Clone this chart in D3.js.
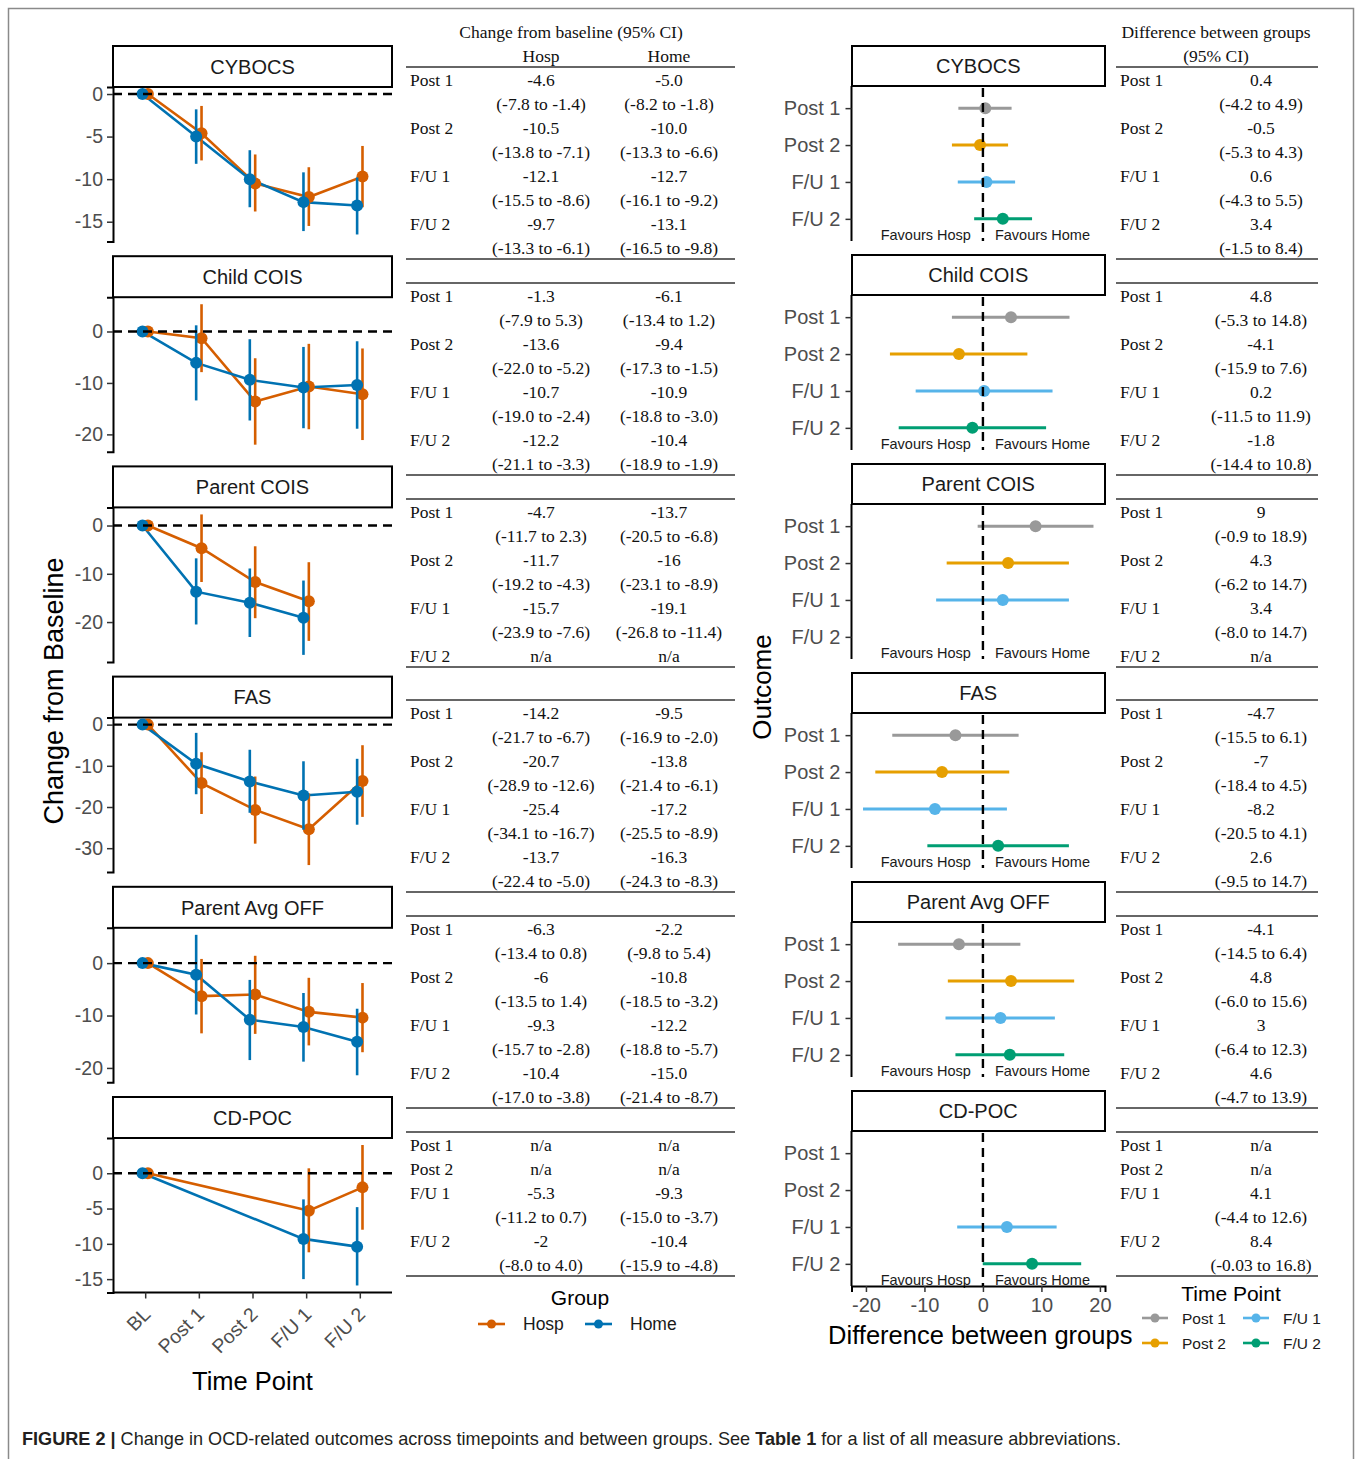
<!DOCTYPE html>
<html><head><meta charset="utf-8">
<script src="https://cdn.jsdelivr.net/npm/d3@7"></script>
<style>body{margin:0;background:#fff} svg{display:block}</style>
</head><body><svg id="c" width="1360" height="1459"></svg>
<script>
// ---------- DATA ----------
const measures = ["CYBOCS","Child COIS","Parent COIS","FAS","Parent Avg OFF","CD-POC"];
const timepoints = ["BL","Post 1","Post 2","F/U 1","F/U 2"];
const followups = ["Post 1","Post 2","F/U 1","F/U 2"];
const groups = ["Hosp","Home"];

// change from baseline, strings as printed in the table ("n/a" = not available)
const hospEst = [
 ["-4.6","-10.5","-12.1","-9.7"],
 ["-1.3","-13.6","-10.7","-12.2"],
 ["-4.7","-11.7","-15.7","n/a"],
 ["-14.2","-20.7","-25.4","-13.7"],
 ["-6.3","-6","-9.3","-10.4"],
 ["n/a","n/a","-5.3","-2"]];
const hospLo = [
 ["-7.8","-13.8","-15.5","-13.3"],
 ["-7.9","-22.0","-19.0","-21.1"],
 ["-11.7","-19.2","-23.9",null],
 ["-21.7","-28.9","-34.1","-22.4"],
 ["-13.4","-13.5","-15.7","-17.0"],
 [null,null,"-11.2","-8.0"]];
const hospHi = [
 ["-1.4","-7.1","-8.6","-6.1"],
 ["5.3","-5.2","-2.4","-3.3"],
 ["2.3","-4.3","-7.6",null],
 ["-6.7","-12.6","-16.7","-5.0"],
 ["0.8","1.4","-2.8","-3.8"],
 [null,null,"0.7","4.0"]];
const homeEst = [
 ["-5.0","-10.0","-12.7","-13.1"],
 ["-6.1","-9.4","-10.9","-10.4"],
 ["-13.7","-16","-19.1","n/a"],
 ["-9.5","-13.8","-17.2","-16.3"],
 ["-2.2","-10.8","-12.2","-15.0"],
 ["n/a","n/a","-9.3","-10.4"]];
const homeLo = [
 ["-8.2","-13.3","-16.1","-16.5"],
 ["-13.4","-17.3","-18.8","-18.9"],
 ["-20.5","-23.1","-26.8",null],
 ["-16.9","-21.4","-25.5","-24.3"],
 ["-9.8","-18.5","-18.8","-21.4"],
 [null,null,"-15.0","-15.9"]];
const homeHi = [
 ["-1.8","-6.6","-9.2","-9.8"],
 ["1.2","-1.5","-3.0","-1.9"],
 ["-6.8","-8.9","-11.4",null],
 ["-2.0","-6.1","-8.9","-8.3"],
 ["5.4","-3.2","-5.7","-8.7"],
 [null,null,"-3.7","-4.8"]];
// difference between groups
const diffEst = [
 ["0.4","-0.5","0.6","3.4"],
 ["4.8","-4.1","0.2","-1.8"],
 ["9","4.3","3.4","n/a"],
 ["-4.7","-7","-8.2","2.6"],
 ["-4.1","4.8","3","4.6"],
 ["n/a","n/a","4.1","8.4"]];
const diffLo = [
 ["-4.2","-5.3","-4.3","-1.5"],
 ["-5.3","-15.9","-11.5","-14.4"],
 ["-0.9","-6.2","-8.0",null],
 ["-15.5","-18.4","-20.5","-9.5"],
 ["-14.5","-6.0","-6.4","-4.7"],
 [null,null,"-4.4","-0.03"]];
const diffHi = [
 ["4.9","4.3","5.5","8.4"],
 ["14.8","7.6","11.9","10.8"],
 ["18.9","14.7","14.7",null],
 ["6.1","4.5","4.1","14.7"],
 ["6.4","15.6","12.3","13.9"],
 [null,null,"12.6","16.8"]];

const groupColors = ["#D55E00","#0072B2"];
const tpColors = ["#999999","#E69F00","#56B4E9","#009E73"];

// ---------- SETUP ----------
const svg = d3.select("#c");
const SANS = "'Liberation Sans', Arial, Helvetica, sans-serif";
const SERIF = "'Liberation Serif', 'Times New Roman', serif";
svg.append("rect").attr("width",1360).attr("height",1459).attr("fill","#fff");
svg.append("rect").attr("x",8.5).attr("y",8.5).attr("width",1345).attr("height",1480)
  .attr("fill","none").attr("stroke","#8a8a8a").attr("stroke-width",1.5);

const num = s => (s==null || s==="n/a") ? null : +s;
const fmt = d => String(d);
function expand(ext){ const r = ext[1]-ext[0]; return [ext[0]-0.05*r, ext[1]+0.05*r]; }

const gEst=[hospEst,homeEst], gLo=[hospLo,homeLo], gHi=[hospHi,homeHi];

// ---------- LEFT: change from baseline ----------
const L = {x0:113, x1:392, top0:46, step:210.2, stripH:41, panelH:154.5};
const xL = d3.scalePoint().domain(timepoints).range([L.x0, L.x1]).padding(0.6);
const dodge = xL.step()*0.05;

measures.forEach((m,i)=>{
  const sTop = L.top0 + i*L.step, pTop = sTop + L.stripH, pBot = pTop + L.panelH;
  const vals=[0];
  for(let g=0; g<2; g++) followups.forEach((f,j)=>{
    [gEst[g][i][j],gLo[g][i][j],gHi[g][i][j]].forEach(v=>{ if(num(v)!=null) vals.push(num(v)); });
  });
  const y = d3.scaleLinear().domain(expand(d3.extent(vals))).range([pBot,pTop]);
  const gp = svg.append("g");
  // strip
  gp.append("rect").attr("x",L.x0).attr("y",sTop).attr("width",L.x1-L.x0).attr("height",L.stripH)
    .attr("fill","#fff").attr("stroke","#000").attr("stroke-width",2);
  gp.append("text").attr("x",(L.x0+L.x1)/2).attr("y",sTop+L.stripH/2).attr("dy","0.36em")
    .attr("text-anchor","middle").attr("font-family",SANS).attr("font-size",20).attr("fill","#1a1a1a").text(m);
  // axis
  const ax = gp.append("g").attr("transform",`translate(${L.x0},0)`)
    .call(d3.axisLeft(y).ticks(4).tickSizeOuter(0).tickSize(6).tickFormat(fmt));
  ax.select(".domain").attr("stroke","#000").attr("stroke-width",2);
  ax.selectAll(".tick line").attr("stroke","#333").attr("stroke-width",1.5);
  ax.selectAll(".tick text").attr("font-family",SANS).attr("font-size",19.5).attr("fill","#4d4d4d").attr("x",-10);
  // series
  const seriesPts = [0,1].map(g=>{
    const pts=[{tp:"BL",v:0,lo:null,hi:null}];
    followups.forEach((f,j)=>{ const v=num(gEst[g][i][j]); if(v!=null) pts.push({tp:f,v,lo:num(gLo[g][i][j]),hi:num(gHi[g][i][j])}); });
    return pts;
  });
  [0,1].forEach(g=>{
    const off = g===0 ? dodge : -dodge;
    gp.append("path").datum(seriesPts[g]).attr("fill","none").attr("stroke",groupColors[g]).attr("stroke-width",2.6)
      .attr("d",d3.line().x(d=>xL(d.tp)+off).y(d=>y(d.v)));
  });
  [0,1].forEach(g=>{
    const off = g===0 ? dodge : -dodge;
    const pts = seriesPts[g];
    gp.selectAll(null).data(pts.filter(d=>d.lo!=null)).enter().append("line")
      .attr("x1",d=>xL(d.tp)+off).attr("x2",d=>xL(d.tp)+off).attr("y1",d=>y(d.lo)).attr("y2",d=>y(d.hi))
      .attr("stroke",groupColors[g]).attr("stroke-width",2.6);
    gp.selectAll(null).data(pts).enter().append("circle")
      .attr("cx",d=>xL(d.tp)+off).attr("cy",d=>y(d.v)).attr("r",6).attr("fill",groupColors[g]);
  });
  gp.append("line").attr("x1",L.x0).attr("x2",L.x1).attr("y1",y(0)).attr("y2",y(0))
    .attr("stroke","#000").attr("stroke-width",2.4).attr("stroke-dasharray","9,6");
  if(i===measures.length-1){
    const xa = gp.append("g").attr("transform",`translate(0,${pBot})`)
      .call(d3.axisBottom(xL).tickSizeOuter(0).tickSize(6));
    xa.select(".domain").attr("stroke","#000").attr("stroke-width",2).attr("d",`M${L.x0},0H${L.x1}`);
    xa.selectAll(".tick line").attr("stroke","#333").attr("stroke-width",1.5);
    xa.selectAll(".tick text").attr("font-family",SANS).attr("font-size",19.5).attr("fill","#4d4d4d")
      .attr("text-anchor","end").attr("y",0).attr("dy",0)
      .attr("transform","translate(6,23) rotate(-45)");
    svg.append("text").attr("x",(L.x0+L.x1)/2).attr("y",pBot+97).attr("text-anchor","middle")
      .attr("font-family",SANS).attr("font-size",25.5).attr("fill","#000").text("Time Point");
  }
});
svg.append("text").attr("transform","translate(63,691) rotate(-90)").attr("text-anchor","middle")
  .attr("font-family",SANS).attr("font-size",27).attr("fill","#000").text("Change from Baseline");

// ---------- RIGHT: forest plots ----------
const R = {x0:851.5, x1:1105, top0:46, step:209, stripH:40, panelH:155};
const allD=[];
measures.forEach((m,i)=>followups.forEach((f,j)=>{ [diffLo[i][j],diffHi[i][j],diffEst[i][j]].forEach(v=>{ if(num(v)!=null) allD.push(num(v)); }); }));
const xR = d3.scaleLinear().domain(expand(d3.extent(allD))).range([R.x0,R.x1]);

measures.forEach((m,i)=>{
  const sTop = R.top0 + i*R.step, pTop = sTop + R.stripH, pBot = pTop + R.panelH;
  const yR = d3.scalePoint().domain(followups).range([pTop,pBot]).padding(0.6);
  const gp = svg.append("g");
  gp.append("rect").attr("x",R.x0+0.5).attr("y",sTop).attr("width",R.x1-R.x0-0.5).attr("height",R.stripH)
    .attr("fill","#fff").attr("stroke","#000").attr("stroke-width",2);
  gp.append("text").attr("x",(R.x0+R.x1)/2).attr("y",sTop+R.stripH/2).attr("dy","0.36em")
    .attr("text-anchor","middle").attr("font-family",SANS).attr("font-size",20).attr("fill","#1a1a1a").text(m);
  const ax = gp.append("g").attr("transform",`translate(${R.x0},0)`)
    .call(d3.axisLeft(yR).tickSizeOuter(0).tickSize(6));
  ax.select(".domain").attr("stroke","#000").attr("stroke-width",2).attr("d",`M0,${pTop}V${pBot}`);
  ax.selectAll(".tick line").attr("stroke","#333").attr("stroke-width",1.5);
  ax.selectAll(".tick text").attr("font-family",SANS).attr("font-size",20).attr("fill","#4d4d4d").attr("x",-11);
  followups.forEach((f,j)=>{
    const v=num(diffEst[i][j]); if(v==null) return;
    gp.append("line").attr("x1",xR(num(diffLo[i][j]))).attr("x2",xR(num(diffHi[i][j])))
      .attr("y1",yR(f)).attr("y2",yR(f)).attr("stroke",tpColors[j]).attr("stroke-width",3);
    gp.append("circle").attr("cx",xR(v)).attr("cy",yR(f)).attr("r",6).attr("fill",tpColors[j]);
  });
  gp.append("line").attr("x1",xR(0)).attr("x2",xR(0)).attr("y1",pTop+2).attr("y2",pBot)
    .attr("stroke","#000").attr("stroke-width",2.4).attr("stroke-dasharray","9,6");
  const ty = yR("F/U 2") + 0.43*yR.step();
  gp.append("text").attr("x",xR(0)-12).attr("y",ty).attr("dy","0.36em").attr("text-anchor","end")
    .attr("font-family",SANS).attr("font-size",14.5).attr("fill","#1a1a1a").text("Favours Hosp");
  gp.append("text").attr("x",xR(0)+12).attr("y",ty).attr("dy","0.36em").attr("text-anchor","start")
    .attr("font-family",SANS).attr("font-size",14.5).attr("fill","#1a1a1a").text("Favours Home");
  if(i===measures.length-1){
    const xa = gp.append("g").attr("transform",`translate(0,${pBot})`)
      .call(d3.axisBottom(xR).ticks(4).tickSizeOuter(0).tickSize(6).tickFormat(fmt));
    xa.select(".domain").attr("stroke","#000").attr("stroke-width",2);
    xa.selectAll(".tick line").attr("stroke","#333").attr("stroke-width",1.5);
    xa.selectAll(".tick text").attr("font-family",SANS).attr("font-size",20).attr("fill","#4d4d4d").attr("y",12);
    svg.append("text").attr("x",(R.x0+R.x1)/2+2).attr("y",pBot+58).attr("text-anchor","middle")
      .attr("font-family",SANS).attr("font-size",25.5).attr("fill","#000").text("Difference between groups");
  }
});
svg.append("text").attr("transform","translate(771,687) rotate(-90)").attr("text-anchor","middle")
  .attr("font-family",SANS).attr("font-size",26).attr("fill","#000").text("Outcome");

// ---------- TABLES ----------
const tableTops = [67, 283, 499, 700, 916, 1132];
const ROW = 24;
function txt(x,y,s,anchor){
  svg.append("text").attr("x",x).attr("y",y).attr("dy","0.35em").attr("text-anchor",anchor||"middle")
    .attr("font-family",SERIF).attr("font-size",17.5).attr("fill","#111").text(s);
}
function hline(x0,x1,y){
  svg.append("line").attr("x1",x0).attr("x2",x1).attr("y1",y).attr("y2",y).attr("stroke","#333").attr("stroke-width",1.4);
}
function drawTable(x0,x1,labelX,cols){ // cols: [{x, est, lo, hi}]
  measures.forEach((m,i)=>{
    const top = tableTops[i];
    hline(x0,x1,top);
    let yy = top + 13;
    followups.forEach((f,j)=>{
      txt(labelX,yy,f,"start");
      const na = cols[0].est[i][j]==="n/a";
      cols.forEach(c=>txt(c.x,yy,c.est[i][j]));
      yy += ROW;
      if(!na){
        cols.forEach(c=>txt(c.x,yy,`(${c.lo[i][j]} to ${c.hi[i][j]})`));
        yy += ROW;
      }
    });
    hline(x0,x1,yy-ROW+11);
  });
}
txt(571,32,"Change from baseline (95% CI)");
txt(541,56,"Hosp"); txt(669,56,"Home");
drawTable(406,735,410,[{x:541,est:hospEst,lo:hospLo,hi:hospHi},{x:669,est:homeEst,lo:homeLo,hi:homeHi}]);
txt(1216,32,"Difference between groups");
txt(1216,56,"(95% CI)");
drawTable(1116,1318,1120,[{x:1261,est:diffEst,lo:diffLo,hi:diffHi}]);

// ---------- LEGENDS ----------
svg.append("text").attr("x",580).attr("y",1297).attr("dy","0.36em").attr("text-anchor","middle")
  .attr("font-family",SANS).attr("font-size",21).attr("fill","#000").text("Group");
const gx=[478,585];
groups.forEach((g,k)=>{
  const lg = svg.append("g").attr("transform",`translate(${gx[k]},1324)`);
  lg.append("line").attr("x1",0).attr("x2",27).attr("stroke",groupColors[k]).attr("stroke-width",2.6);
  lg.append("circle").attr("cx",13.5).attr("r",4.5).attr("fill",groupColors[k]);
  lg.append("text").attr("x",45).attr("dy","0.36em").attr("font-family",SANS).attr("font-size",17.5).attr("fill","#1a1a1a").text(g);
});
svg.append("text").attr("x",1231).attr("y",1293).attr("dy","0.36em").attr("text-anchor","middle")
  .attr("font-family",SANS).attr("font-size",21).attr("fill","#000").text("Time Point");
followups.forEach((f,j)=>{
  const col = Math.floor(j/2), row = j%2;
  const lg = svg.append("g").attr("transform",`translate(${1142+col*101},${1318+row*25})`);
  lg.append("line").attr("x1",0).attr("x2",26).attr("stroke",tpColors[j]).attr("stroke-width",2.6);
  lg.append("circle").attr("cx",13).attr("r",4.5).attr("fill",tpColors[j]);
  lg.append("text").attr("x",40).attr("dy","0.36em").attr("font-family",SANS).attr("font-size",15.5).attr("fill","#1a1a1a").text(f);
});

// ---------- CAPTION ----------
const cap = svg.append("text").attr("x",22).attr("y",1445).attr("font-family",SANS).attr("font-size",18.1).attr("fill","#231f20");
cap.append("tspan").attr("font-weight","bold").text("FIGURE 2 | ");
cap.append("tspan").text("Change in OCD-related outcomes across timepoints and between groups. See ");
cap.append("tspan").attr("font-weight","bold").text("Table 1");
cap.append("tspan").text(" for a list of all measure abbreviations.");
</script></body></html>
